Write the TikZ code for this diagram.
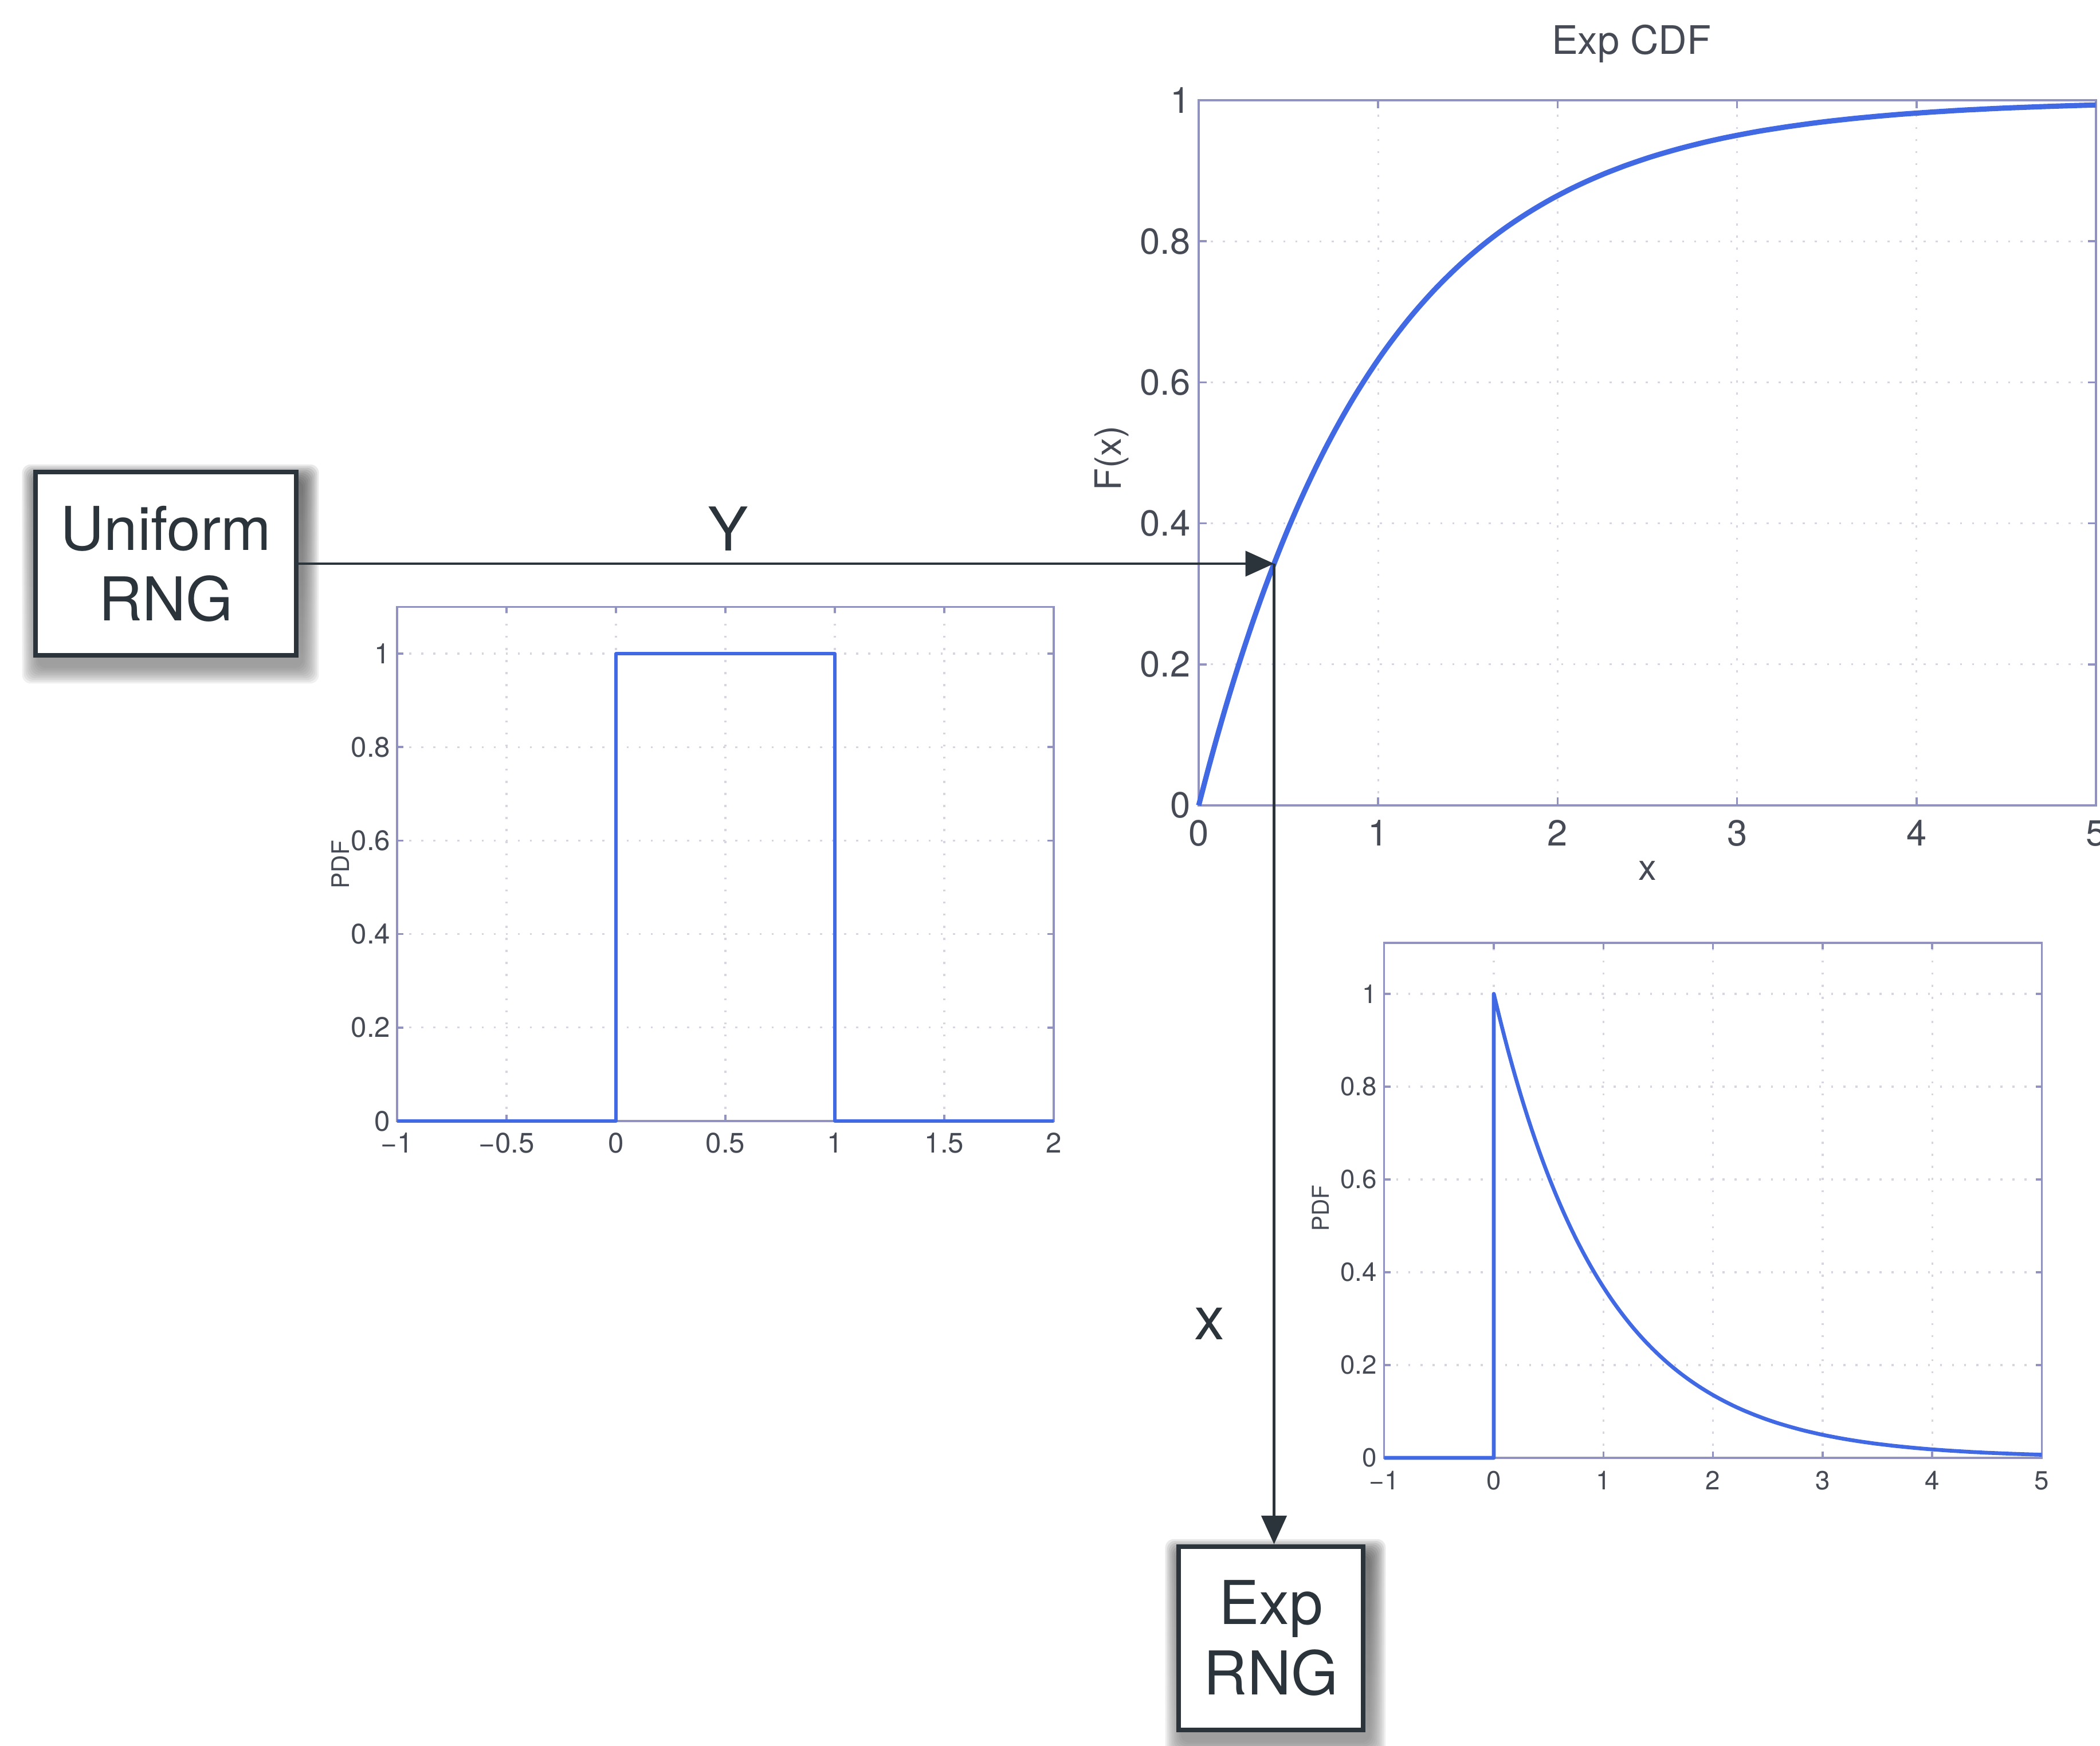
\documentclass[tikz,border=0pt]{standalone}
\usepackage{fontspec}
\setmainfont{TeX Gyre Heros}
\usepackage{tikz}
\usetikzlibrary{arrows.meta,positioning,backgrounds}
\pgfdeclarelayer{paper}
\pgfsetlayers{paper,background,main}

\definecolor{ink}{RGB}{42,52,58}
\definecolor{tickc}{RGB}{70,74,84}
\definecolor{axisc}{RGB}{146,146,192}
\definecolor{gridc}{RGB}{214,214,226}
\definecolor{curveblue}{RGB}{66,105,228}
\definecolor{shade}{RGB}{96,40,124}
\newcommand{\fsz}[2]{\fontsize{#1}{#2}\selectfont}
% soft purple shadow under a box
\newcommand{\boxshadow}[1]{%
  \begin{scope}[on background layer]
    \foreach \r in {0,...,9}
      \fill[shade, opacity=.06, rounded corners=1.5mm]
        ([shift={({0.8mm-\r*0.3mm},{-1.8mm-\r*0.3mm})}]#1.south west) rectangle
        ([shift={({0.8mm+\r*0.3mm},{-1.8mm+\r*0.3mm})}]#1.north east);
  \end{scope}}

\begin{document}
\begin{tikzpicture}[
  box/.style={draw=ink, line width=2.4pt, fill=white, align=center, text=ink,
              minimum height=32mm, inner xsep=4.4mm, font=\fsz{30}{35}},
  lbl/.style={font=\fsz{30}{35}, text=ink, inner sep=0pt},
  ar/.style={draw=ink, line width=1.4pt, -{Triangle[length=5mm, width=4.4mm]}},
  axisln/.style={draw=axisc, line width=1pt},
  gridln/.style={draw=gridc, line width=.9pt, dash pattern=on 1pt off 5pt},
  pdfline/.style={draw=curveblue, line join=round},
  cdft/.style={text=tickc, inner sep=0pt, font=\fsz{18}{22}},
  unit/.style={text=tickc, inner sep=0pt, font=\fsz{14}{17}},
  expt/.style={text=tickc, inner sep=0pt, font=\fsz{13}{16}}]

\begin{pgfonlayer}{paper}
  \fill[white] (0,0) rectangle (36.65,30.48);
\end{pgfonlayer}
\useasboundingbox (0,0) rectangle (36.65,30.48);

% Exp CDF
\begin{scope}[shift={(20.92,16.42)}, x=3.132cm, y=12.31cm]
  \foreach \t in {1,...,4} \draw[gridln] (\t,0) -- (\t,1);
  \foreach \t in {0.2,0.4,0.6,0.8} \draw[gridln] (0,\t) -- (5,\t);
  \draw[axisln] (0,0) rectangle (5,1);
  \foreach \t in {0,...,5} {
    \draw[axisln] (\t,0) -- ++(0,1.4mm);
    \draw[axisln] (\t,1) -- ++(0,-1.4mm);
    \node[cdft, anchor=base, yshift=-7.1mm] (cdfx\t) at (\t,0) {\t};
  }
  \foreach \t [count=\i] in {0,0.2,0.4,0.6,0.8,1} {
    \draw[axisln] (0,\t) -- ++(1.4mm,0);
    \draw[axisln] (5,\t) -- ++(-1.4mm,0);
    \node[cdft, anchor=east, xshift=-1.4mm] (cdfy\i) at (0,\t) {\t};
  }
  \draw[pdfline, line width=2.6pt] plot[domain=0:5, samples=100, smooth] (\x,{1-exp(-\x)});
\end{scope}
\node[cdft, font=\fsz{19.5}{23}, anchor=base] (cdftitle) at (28.47,29.53) {Exp CDF};
\node[cdft, anchor=base] (cdfxlab) at (28.75,15.11) {x};
\node[cdft, rotate=90] (cdfylab) at (19.40,22.48) {F(x)};

% uniform pdf
\begin{scope}[shift={(10.75,10.91)}, x=3.82cm, y=8.16cm]
  \foreach \t in {-0.5,0,0.5,1,1.5} \draw[gridln] (\t,0) -- (\t,1.1);
  \foreach \t in {0.2,0.4,0.6,0.8,1} \draw[gridln] (-1,\t) -- (2,\t);
  \draw[axisln] (-1,0) rectangle (2,1.1);
  \foreach \t/\l [count=\i] in {-1/−1,-0.5/−0.5,0/0,0.5/0.5,1/1,1.5/1.5,2/2} {
    \draw[axisln] (\t,0) -- ++(0,1.1mm);
    \draw[axisln] (\t,1.1) -- ++(0,-1.1mm);
    \node[unit, anchor=base, yshift=-5.6mm] (unix\i) at (\t,0) {\l};
  }
  \foreach \t [count=\i] in {0,0.2,0.4,0.6,0.8,1} {
    \draw[axisln] (-1,\t) -- ++(1.1mm,0);
    \draw[axisln] (2,\t) -- ++(-1.1mm,0);
    \node[unit, anchor=east, xshift=-1.1mm] (uniy\i) at (-1,\t) {\t};
  }
  \draw[pdfline, line width=1.5pt] (-1,0) -- (0,0) -- (0,1) -- (1,1) -- (1,0) -- (2,0);
\end{scope}
\node[unit, font=\fsz{12}{14}, rotate=90] (uniylab) at (5.94,15.39) {PDF};

% exp pdf
\begin{scope}[shift={(26.07,5.03)}, x=1.913cm, y=8.1cm]
  \foreach \t in {0,...,4} \draw[gridln] (\t,0) -- (\t,1.11);
  \foreach \t in {0.2,0.4,0.6,0.8,1} \draw[gridln] (-1,\t) -- (5,\t);
  \draw[axisln] (-1,0) rectangle (5,1.11);
  \foreach \t/\l in {-1/−1,0/0,1/1,2/2,3/3,4/4,5/5} {
    \draw[axisln] (\t,0) -- ++(0,1.1mm);
    \draw[axisln] (\t,1.11) -- ++(0,-1.1mm);
    \node[expt, anchor=base, yshift=-5.6mm] (expx\l) at (\t,0) {\l};
  }
  \foreach \t [count=\i] in {0,0.2,0.4,0.6,0.8,1} {
    \draw[axisln] (-1,\t) -- ++(1.1mm,0);
    \draw[axisln] (5,\t) -- ++(-1.1mm,0);
    \node[expt, anchor=east, xshift=-1.2mm] (expy\i) at (-1,\t) {\t};
  }
  \draw[pdfline, line width=1.9pt] (-1,0) -- (0,0) -- (0,1)
    -- plot[domain=0:5, samples=80, smooth] (\x,{exp(-\x)});
\end{scope}
\node[expt, font=\fsz{11.5}{14}, rotate=90] (expylab) at (23.05,9.39) {PDF};

% generators
\node[box] (uni) at (2.895,20.64) {Uniform\\RNG};
\node[box] (exprng) at (22.18,1.88) {Exp\\RNG};
\boxshadow{uni}
\boxshadow{exprng}
\coordinate (hit) at (22.235,20.64);

\draw[ar] (uni) -- node[lbl, pos=.44, above=2mm] {Y} (hit);
\draw[ar] (hit) -- node[lbl, pos=.775, left=8.4mm] {x} (hit |- exprng.north);
\end{tikzpicture}
\end{document}
